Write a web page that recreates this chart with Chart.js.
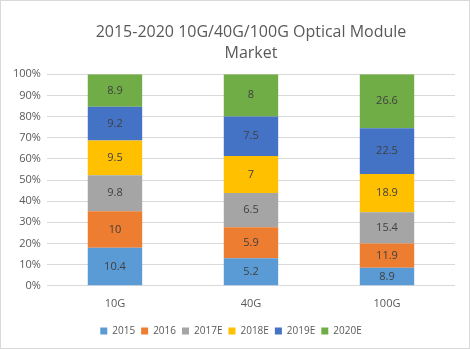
<!DOCTYPE html>
<html>
<head>
<meta charset="utf-8">
<script src="https://cdn.jsdelivr.net/npm/chart.js@4"></script>
<style>
  html, body { margin: 0; padding: 0; background: #fff; }
  #wrap { width: 468px; height: 347px; border: 1px solid #d9d9d9; }
</style>
</head>
<body>
<div id="wrap"><canvas id="marketChart" width="468" height="347"></canvas></div>
<script>
const categories = ["10G", "40G", "100G"];
const seriesNames = ["2015", "2016", "2017E", "2018E", "2019E", "2020E"];
const v2015 = [10.4, 5.2, 8.9];
const v2016 = [10, 5.9, 11.9];
const v2017 = [9.8, 6.5, 15.4];
const v2018 = [9.5, 7, 18.9];
const v2019 = [9.2, 7.5, 22.5];
const v2020 = [8.9, 8, 26.6];
const yTicks = [0, 10, 20, 30, 40, 50, 60, 70, 80, 90, 100];

const rawSeries = [v2015, v2016, v2017, v2018, v2019, v2020];
const colors = ["#5b9bd5", "#ed7d31", "#a5a5a5", "#ffc000", "#4472c4", "#70ad47"];

// column totals so each bar fills 100%
const totals = categories.map((c, i) => rawSeries.reduce((s, arr) => s + arr[i], 0));

const datasets = rawSeries.map((arr, k) => ({
    label: seriesNames[k],
    data: arr.map((v, i) => v / totals[i] * 100),
    raw: arr,
    backgroundColor: colors[k],
    barPercentage: 0.8,
    categoryPercentage: 0.5
}));

const labelPlugin = {
    id: "barLabels",
    afterDatasetsDraw(chart) {
        const ctx = chart.ctx;
        ctx.save();
        ctx.font = "11px 'Open Sans', sans-serif";
        ctx.fillStyle = "#404040";
        ctx.textAlign = "center";
        ctx.textBaseline = "middle";
        chart.data.datasets.forEach((ds, k) => {
            chart.getDatasetMeta(k).data.forEach((bar, i) => {
                const y = (bar.y + bar.base) / 2;
                ctx.fillText(String(ds.raw[i]), bar.x, y);
            });
        });
        ctx.restore();
    }
};

new Chart(document.getElementById("marketChart"), {
    type: "bar",
    data: { labels: categories, datasets: datasets },
    plugins: [labelPlugin],
    options: {
        responsive: false,
        animation: false,
        layout: { padding: { left: 6, right: 14, top: 4, bottom: 2 } },
        plugins: {
            title: {
                display: true,
                fullSize: false,
                text: ["2015-2020 10G/40G/100G Optical Module", "Market"],
                color: "#595959",
                font: { family: "'Open Sans', sans-serif", size: 16, weight: "normal", lineHeight: 1.32 },
                padding: { top: 17, bottom: 10 }
            },
            legend: {
                position: "bottom",
                labels: {
                    boxWidth: 7,
                    boxHeight: 7,
                    padding: 6,
                    color: "#595959",
                    font: { family: "'Open Sans', sans-serif", size: 10 }
                }
            },
            tooltip: { enabled: false }
        },
        scales: {
            x: {
                stacked: true,
                grid: { display: false },
                border: { display: false },
                ticks: { color: "#595959", font: { family: "'Open Sans', sans-serif", size: 11 }, padding: 3 },
                afterFit(scale) { scale.height += 7; }
            },
            y: {
                stacked: true,
                min: 0,
                max: 100,
                afterBuildTicks(axis) { axis.ticks = yTicks.map(v => ({ value: v })); },
                grid: { color: "#d9d9d9", drawTicks: false },
                border: { display: false },
                ticks: {
                    color: "#595959",
                    font: { family: "'Open Sans', sans-serif", size: 11 },
                    padding: 6,
                    callback: v => v + "%"
                }
            }
        }
    }
});
</script>
</body>
</html>
